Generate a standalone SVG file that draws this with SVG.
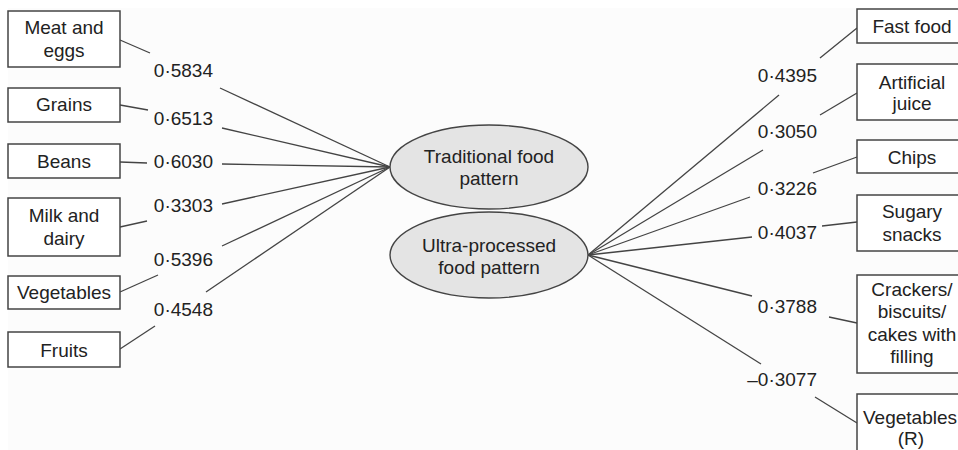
<svg xmlns="http://www.w3.org/2000/svg" width="958" height="450" viewBox="0 0 958 450">
<style>
.box{fill:#ffffff;stroke:#444;stroke-width:1.5}
.ell{fill:#e4e4e4;stroke:#444;stroke-width:1.4}
.t{font-family:"Liberation Sans",Arial,sans-serif;font-size:19px;fill:#222;text-anchor:middle}
.n{font-family:"Liberation Sans",Arial,sans-serif;font-size:19px;fill:#222;text-anchor:end}
.c line{stroke:#444;stroke-width:1.3}
</style>
<rect x="0" y="0" width="958" height="450" fill="#ffffff"/>
<rect x="8" y="8" width="950" height="442" fill="#fcfcfc"/>

<g id="connectors" class="c">
<line x1="120" y1="40" x2="150" y2="53"/><line x1="220" y1="88" x2="390" y2="167"/>
<line x1="120" y1="105" x2="148" y2="110"/><line x1="222" y1="128" x2="390" y2="167"/>
<line x1="120" y1="162" x2="147" y2="163"/><line x1="222" y1="164" x2="390" y2="167"/>
<line x1="120" y1="227" x2="147" y2="221"/><line x1="222" y1="204" x2="390" y2="167"/>
<line x1="120" y1="292" x2="158" y2="275"/><line x1="222" y1="246" x2="390" y2="167"/>
<line x1="120" y1="349" x2="155" y2="326"/><line x1="206" y1="292" x2="390" y2="167"/>
<line x1="857" y1="28" x2="820" y2="58"/><line x1="779" y1="95" x2="588" y2="255"/>
<line x1="857" y1="93" x2="820" y2="115"/><line x1="763" y1="150" x2="588" y2="255"/>
<line x1="857" y1="157" x2="813" y2="173"/><line x1="750" y1="197" x2="588" y2="255"/>
<line x1="857" y1="222" x2="822" y2="226"/><line x1="752" y1="237" x2="588" y2="255"/>
<line x1="857" y1="323" x2="829" y2="317"/><line x1="752" y1="296" x2="588" y2="255"/>
<line x1="857" y1="423" x2="815" y2="397"/><line x1="761" y1="364" x2="588" y2="255"/>
</g>

<g id="labels">
<text class="n" x="213" y="77">0·5834</text>
<text class="n" x="213" y="125">0·6513</text>
<text class="n" x="213" y="168">0·6030</text>
<text class="n" x="213" y="212">0·3303</text>
<text class="n" x="213" y="266">0·5396</text>
<text class="n" x="213" y="316">0·4548</text>
<text class="n" x="817" y="82">0·4395</text>
<text class="n" x="817" y="138">0·3050</text>
<text class="n" x="817" y="195">0·3226</text>
<text class="n" x="817" y="239">0·4037</text>
<text class="n" x="817" y="313">0·3788</text>
<text class="n" x="817" y="386">–0·3077</text>
</g>

<g id="meat"><rect class="box" x="8" y="11" width="112" height="56"/><text class="t" x="64" y="34">Meat and</text><text class="t" x="64" y="57">eggs</text></g>
<g id="grains"><rect class="box" x="8" y="88" width="112" height="34"/><text class="t" x="64" y="111">Grains</text></g>
<g id="beans"><rect class="box" x="8" y="144" width="112" height="34"/><text class="t" x="64" y="168">Beans</text></g>
<g id="milk"><rect class="box" x="8" y="198" width="112" height="58"/><text class="t" x="64" y="222">Milk and</text><text class="t" x="64" y="245">dairy</text></g>
<g id="vegetables"><rect class="box" x="8" y="276" width="112" height="33"/><text class="t" x="64" y="299">Vegetables</text></g>
<g id="fruits"><rect class="box" x="8" y="332" width="112" height="35"/><text class="t" x="64" y="357">Fruits</text></g>

<g id="traditional"><ellipse class="ell" cx="489" cy="167" rx="99" ry="42"/><text class="t" x="489" y="163">Traditional food</text><text class="t" x="489" y="185">pattern</text></g>
<g id="ultra"><ellipse class="ell" cx="489" cy="255" rx="99" ry="43"/><text class="t" x="489" y="252">Ultra-processed</text><text class="t" x="489" y="274">food pattern</text></g>

<g id="fastfood"><rect class="box" x="857" y="9" width="112" height="34"/><text class="t" x="912" y="33">Fast food</text></g>
<g id="juice"><rect class="box" x="857" y="64" width="112" height="56"/><text class="t" x="912" y="89">Artificial</text><text class="t" x="912" y="110">juice</text></g>
<g id="chips"><rect class="box" x="857" y="140" width="112" height="33"/><text class="t" x="912" y="164">Chips</text></g>
<g id="sugary"><rect class="box" x="857" y="195" width="112" height="56"/><text class="t" x="912" y="218">Sugary</text><text class="t" x="912" y="241">snacks</text></g>
<g id="crackers"><rect class="box" x="857" y="275" width="112" height="98"/><text class="t" x="912" y="296">Crackers/</text><text class="t" x="912" y="318">biscuits/</text><text class="t" x="912" y="341">cakes with</text><text class="t" x="912" y="363">filling</text></g>
<g id="vegR"><rect class="box" x="857" y="394" width="112" height="70"/><text class="t" x="910" y="424">Vegetables</text><text class="t" x="911" y="445">(R)</text></g>
</svg>
